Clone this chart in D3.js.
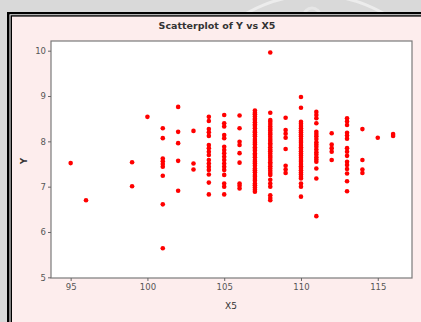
<!DOCTYPE html>
<html><head><meta charset="utf-8">
<script src="https://cdn.jsdelivr.net/npm/d3@7"></script>
<style>html,body{margin:0;padding:0;background:#d9d9d9;}svg{display:block;}</style>
</head><body>
<svg id="c" width="421" height="322"></svg>
<script>
// ---- data ----
const title = "Scatterplot of Y vs X5";
const xLabel = "X5";
const yLabel = "Y";
const xTicks = [95, 100, 105, 110, 115];
const yTicks = [5, 6, 7, 8, 9, 10];
const x5Levels = [95, 96, 99, 100, 101, 102, 103, 104, 105, 106, 107, 108, 109, 110, 111, 112, 113, 114, 115, 116];
const yAt95 = [7.52];
const yAt96 = [6.70];
const yAt99 = [7.54, 7.01];
const yAt100 = [8.54];
const yAt101 = [8.29, 8.07, 7.62, 7.56, 7.50, 7.44, 7.24, 6.61, 5.64];
const yAt102 = [8.76, 8.21, 7.96, 7.57, 6.91];
const yAt103 = [8.23, 7.51, 7.38];
const yAt104 = [8.54, 8.45, 8.27, 8.20, 8.12, 7.92, 7.85, 7.77, 7.70, 7.59, 7.51, 7.44, 7.37, 7.27, 7.09, 6.83];
const yAt105 = [8.58, 8.40, 8.33, 8.14, 8.07, 7.88, 7.81, 7.74, 7.66, 7.59, 7.51, 7.44, 7.37, 7.26, 7.07, 7.00, 6.83];
const yAt106 = [8.57, 8.29, 7.99, 7.92, 7.74, 7.53, 7.07, 7.02, 6.96];
const yAt107 = [8.68, 8.63, 8.60, 8.55, 8.50, 8.47, 8.42, 8.37, 8.34, 8.29, 8.23, 8.20, 8.15, 8.11, 8.05, 8.01, 7.97, 7.93, 7.87, 7.83, 7.79, 7.73, 7.70, 7.65, 7.59, 7.55, 7.51, 7.46, 7.40, 7.36, 7.32, 7.26, 7.22, 7.17, 7.13, 7.07, 7.03, 6.98, 6.93, 6.89];
const yAt108 = [9.96, 8.63, 8.47, 8.43, 8.38, 8.33, 8.28, 8.24, 8.19, 8.15, 8.10, 8.05, 8.01, 7.96, 7.92, 7.87, 7.82, 7.78, 7.73, 7.68, 7.64, 7.59, 7.54, 7.50, 7.45, 7.40, 7.35, 7.30, 7.26, 7.15, 7.07, 7.00, 6.81, 6.75, 6.70];
const yAt109 = [8.52, 8.25, 8.17, 8.08, 7.83, 7.46, 7.38, 7.30];
const yAt110 = [8.98, 8.74, 8.43, 8.39, 8.34, 8.29, 8.24, 8.20, 8.15, 8.11, 8.06, 8.01, 7.97, 7.92, 7.87, 7.83, 7.78, 7.73, 7.69, 7.64, 7.59, 7.55, 7.50, 7.45, 7.41, 7.36, 7.31, 7.27, 7.22, 7.18, 7.07, 7.00, 6.78];
const yAt111 = [8.65, 8.58, 8.51, 8.40, 8.21, 8.16, 8.11, 8.05, 7.98, 7.93, 7.88, 7.82, 7.76, 7.71, 7.65, 7.60, 7.55, 7.40, 7.18, 6.35];
const yAt112 = [8.18, 7.93, 7.85, 7.77, 7.59];
const yAt113 = [8.51, 8.44, 8.36, 8.19, 8.13, 8.06, 7.85, 7.77, 7.68, 7.55, 7.48, 7.39, 7.29, 7.12, 6.90];
const yAt114 = [8.27, 7.59, 7.38, 7.30];
const yAt115 = [8.08];
const yAt116 = [8.16, 8.12];
const yGroups = [yAt95, yAt96, yAt99, yAt100, yAt101, yAt102, yAt103, yAt104, yAt105, yAt106, yAt107, yAt108, yAt109, yAt110, yAt111, yAt112, yAt113, yAt114, yAt115, yAt116];

const points = [];
x5Levels.forEach((xv, i) => yGroups[i].forEach(yv => points.push({x: xv, y: yv})));

// ---- layout ----
const svg = d3.select("#c");
const W = 421, H = 322;
const plot = {l: 51, t: 41, r: 412, b: 278};

// watermark arc in the gray background
const defs = svg.append("defs");
defs.append("clipPath").attr("id", "topclip").append("rect").attr("x", 0).attr("y", 0).attr("width", W).attr("height", 12);
svg.append("circle").attr("cx", 315).attr("cy", 132).attr("r", 137)
  .attr("fill", "none").attr("stroke", "#ececec").attr("stroke-width", 3)
  .attr("clip-path", "url(#topclip)");
svg.append("circle").attr("cx", 312).attr("cy", 16).attr("r", 8)
  .attr("fill", "none").attr("stroke", "#e6e6e6").attr("stroke-width", 3)
  .attr("clip-path", "url(#topclip)");

// frame
svg.append("rect").attr("x", 7).attr("y", 12).attr("width", W).attr("height", H).attr("fill", "#000");
svg.append("rect").attr("x", 9.5).attr("y", 14.3).attr("width", W).attr("height", H).attr("fill", "#ffffff");
svg.append("rect").attr("x", 10.5).attr("y", 15.2).attr("width", W).attr("height", H).attr("fill", "#000");
svg.append("rect").attr("x", 12).attr("y", 16.6).attr("width", W).attr("height", H).attr("fill", "#fdeded");

// plot area
svg.append("rect").attr("x", plot.l).attr("y", plot.t)
  .attr("width", plot.r - plot.l).attr("height", plot.b - plot.t)
  .attr("fill", "#fff").attr("stroke", "#7a7a7a").attr("stroke-width", 1.2);

const x = d3.scaleLinear().domain([93.72, 117.23]).range([plot.l, plot.r]);
const y = d3.scaleLinear().domain([4.985, 10.214]).range([plot.b, plot.t]);

const font = "'DejaVu Sans', sans-serif";

const xAxis = svg.append("g").attr("transform", `translate(0,${plot.b})`)
  .call(d3.axisBottom(x).tickValues(xTicks).tickFormat(d3.format("d")).tickSize(3).tickPadding(3).tickSizeOuter(0));
const yAxis = svg.append("g").attr("transform", `translate(${plot.l},0)`)
  .call(d3.axisLeft(y).tickValues(yTicks).tickFormat(d3.format("d")).tickSize(3).tickPadding(2).tickSizeOuter(0));
[xAxis, yAxis].forEach(g => {
  g.select(".domain").remove();
  g.selectAll(".tick line").attr("stroke", "#666");
  g.selectAll(".tick text").attr("fill", "#555").attr("font-size", "8.5px").attr("font-family", font);
});

// points
svg.append("g").selectAll("circle").data(points).join("circle")
  .attr("cx", d => x(d.x)).attr("cy", d => y(d.y)).attr("r", 2.3)
  .attr("fill", "#ff0000");

// texts
svg.append("text").attr("x", 217).attr("y", 28.5).attr("text-anchor", "middle")
  .attr("font-family", font).attr("font-weight", "bold").attr("font-size", "9.5px")
  .attr("fill", "#333").text(title);
svg.append("text").attr("x", 231).attr("y", 309).attr("text-anchor", "middle")
  .attr("font-family", font).attr("font-size", "9px").attr("fill", "#333").text(xLabel);
svg.append("text").attr("transform", "translate(27,161) rotate(-90)").attr("text-anchor", "middle")
  .attr("font-family", font).attr("font-weight", "bold").attr("font-size", "9px").attr("fill", "#333").text(yLabel);
</script>
</body></html>
